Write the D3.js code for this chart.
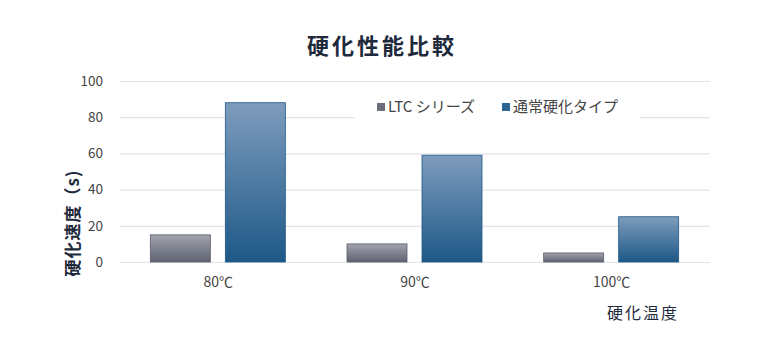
<!DOCTYPE html>
<html>
<head>
<meta charset="utf-8">
<script src="https://cdn.jsdelivr.net/npm/d3@7"></script>
<style>
body { margin: 0; background: #fff; }
svg text { font-family: "Noto Sans CJK JP", "Noto Sans", sans-serif; }
</style>
</head>
<body>
<svg id="chart"></svg>
<script>
"use strict";

var svg_width = 763;
var svg_height = 350;

// data
var categories = ["80℃", "90℃", "100℃"];
var series = ["LTC シリーズ", "通常硬化タイプ"];
var ltcValues = [15, 10, 5];
var normalValues = [88, 59, 25];
var yTicks = [0, 20, 40, 60, 80, 100];

var svg = d3.select("#chart")
    .attr("width", svg_width)
    .attr("height", svg_height);

var defs = svg.append("defs");
var grayGrad = defs.append("linearGradient").attr("id", "gradGray")
    .attr("x1", 0).attr("y1", 0).attr("x2", 0).attr("y2", 1);
grayGrad.append("stop").attr("offset", "0%").attr("stop-color", "#a1a3ad");
grayGrad.append("stop").attr("offset", "100%").attr("stop-color", "#5e6272");
var blueGrad = defs.append("linearGradient").attr("id", "gradBlue")
    .attr("x1", 0).attr("y1", 0).attr("x2", 0).attr("y2", 1);
blueGrad.append("stop").attr("offset", "0%").attr("stop-color", "#7e9cbd");
blueGrad.append("stop").attr("offset", "100%").attr("stop-color", "#1d5887");

var plotLeft = 120, plotRight = 710, plotTop = 81, plotBottom = 262;

var xScale = d3.scaleBand()
    .domain(categories)
    .range([plotLeft, plotRight]);
var yScale = d3.scaleLinear()
    .domain([0, 100])
    .range([plotBottom, plotTop]);

// grid
svg.append("g")
    .selectAll("line")
    .data(yTicks)
    .enter().append("line")
    .attr("x1", plotLeft).attr("x2", plotRight)
    .attr("y1", function(d) {return yScale(d) + 0.5;})
    .attr("y2", function(d) {return yScale(d) + 0.5;})
    .attr("stroke", "#e3e4e8")
    .attr("stroke-width", 1.2);

// y axis ticks
var yAxis = svg.append("g")
    .attr("transform", "translate(" + (plotLeft - 17) + ",0)")
    .call(d3.axisLeft(yScale).tickValues(yTicks).tickSize(0).tickPadding(0));
yAxis.select(".domain").remove();
yAxis.selectAll("text")
    .attr("font-size", 13.5)
    .attr("fill", "#444");

// x axis labels
var xAxis = svg.append("g")
    .attr("transform", "translate(0," + (plotBottom + 13) + ")")
    .call(d3.axisBottom(xScale).tickSize(0).tickPadding(0));
xAxis.select(".domain").remove();
xAxis.selectAll("text")
    .attr("font-size", 14)
    .attr("fill", "#444")
    .attr("dy", "0.85em");

// bars
var barW = 60;
var groups = svg.append("g").selectAll("g")
    .data(categories)
    .enter().append("g")
    .attr("transform", function(d) {return "translate(" + xScale(d) + ",0)";});

var bw = xScale.bandwidth();
groups.append("rect")
    .attr("x", function(d, i) {return bw / 2 - 68;})
    .attr("y", function(d, i) {return yScale(ltcValues[i]);})
    .attr("width", barW)
    .attr("height", function(d, i) {return plotBottom - yScale(ltcValues[i]);})
    .attr("fill", "url(#gradGray)")
    .attr("stroke", "#5a5d6a")
    .attr("stroke-width", 0.8);

groups.append("rect")
    .attr("x", function(d, i) {return bw / 2 + 7;})
    .attr("y", function(d, i) {return yScale(normalValues[i]);})
    .attr("width", barW)
    .attr("height", function(d, i) {return plotBottom - yScale(normalValues[i]);})
    .attr("fill", "url(#gradBlue)")
    .attr("stroke", "#1f5786")
    .attr("stroke-width", 0.8);

// legend
var legend = svg.append("g");
legend.append("rect")
    .attr("x", 355).attr("y", 95).attr("width", 285).attr("height", 28)
    .attr("fill", "#fff");
var legendColors = ["#6b6e7a", "#2a6596"];
var legendX = [377, 502];
var legendItem = legend.selectAll(".item")
    .data(series)
    .enter().append("g")
    .attr("class", "item")
    .attr("transform", function(d, i) {return "translate(" + legendX[i] + ",107)";});
legendItem.append("rect")
    .attr("x", 0).attr("y", -4).attr("width", 8).attr("height", 8)
    .attr("fill", function(d, i) {return legendColors[i];});
legendItem.append("text")
    .attr("x", 11).attr("y", 0)
    .attr("dy", "0.35em")
    .attr("font-size", 15)
    .attr("fill", "#444")
    .text(function(d) {return d;});

// titles
svg.append("text")
    .attr("x", 382).attr("y", 54)
    .attr("text-anchor", "middle")
    .attr("font-size", 22)
    .attr("font-weight", "bold")
    .attr("fill", "#1e2a3c")
    .attr("letter-spacing", 3)
    .text("硬化性能比較");

svg.append("text")
    .attr("transform", "translate(79,223) rotate(-90)")
    .attr("text-anchor", "middle")
    .attr("font-size", 17)
    .attr("font-weight", "bold")
    .attr("fill", "#1e2a3c")
    .attr("letter-spacing", 1)
    .text("硬化速度（s)");

svg.append("text")
    .attr("x", 643).attr("y", 319)
    .attr("text-anchor", "middle")
    .attr("font-size", 16)
    .attr("fill", "#1e2a3c")
    .attr("letter-spacing", 2)
    .text("硬化温度");
</script>
</body>
</html>
